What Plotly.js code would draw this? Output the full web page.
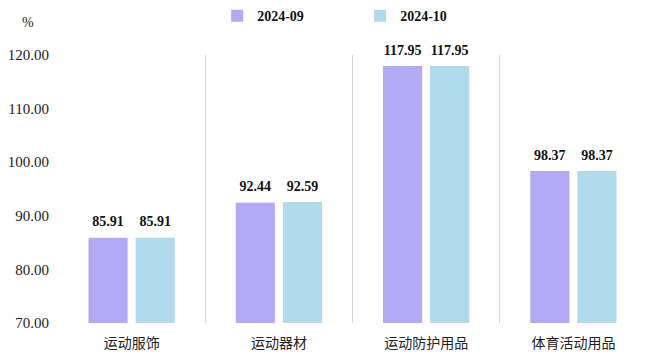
<!DOCTYPE html>
<html>
<head>
<meta charset="utf-8">
<script src="https://cdn.plot.ly/plotly-3.0.1.min.js"></script>
<style>html,body{margin:0;padding:0;background:#fff;}#chart{width:660px;height:357px;}</style>
</head>
<body>
<div id="chart"></div>
<script>
const categories = ["运动服饰", "运动器材", "运动防护用品", "体育活动用品"];
const seriesNames = ["2024-09", "2024-10"];
const values0909 = [85.91, 92.44, 117.95, 98.37];
const values2410 = [85.91, 92.59, 117.95, 98.37];
const yTicks = [70, 80, 90, 100, 110, 120];
const yTickText = ["70.00", "80.00", "90.00", "100.00", "110.00", "120.00"];

const colors = ["#b4a9f5", "#b1daed"];
const serif = "'Liberation Serif', 'Times New Roman', serif";

function barTrace(name, vals, color) {
  return {
    type: "bar",
    name: name,
    x: categories,
    y: vals,
    marker: {color: color},
    hoverinfo: "skip"
  };
}

function labelTrace(name, vals) {
  return {
    type: "scatter",
    mode: "markers+text",
    name: name + " labels",
    showlegend: false,
    x: categories,
    y: vals,
    text: vals.map(v => v.toFixed(2)),
    textposition: "top center",
    marker: {size: 11, opacity: 0},
    cliponaxis: false,
    textfont: {family: serif, size: 14, color: "#111", weight: "bold"},
    hoverinfo: "skip"
  };
}

const data = [
  barTrace(seriesNames[0], values0909, colors[0]),
  barTrace(seriesNames[1], values2410, colors[1]),
  labelTrace(seriesNames[0], values0909),
  labelTrace(seriesNames[1], values2410)
];

const layout = {
  width: 660, height: 357,
  margin: {l: 58, r: 13, t: 55, b: 34, autoexpand: false},
  paper_bgcolor: "#fff", plot_bgcolor: "#fff",
  barmode: "group",
  bargap: 0.36,
  bargroupgap: 0.17,
  scattermode: "group",
  scattergap: 0.36,
  showlegend: true,
  legend: {
    orientation: "h",
    xref: "container", yref: "container",
    x: 0.329, xanchor: "left",
    y: 0.955, yanchor: "middle",
    entrywidth: 98,
    font: {family: serif, size: 14, color: "#111", weight: "bold"}
  },
  xaxis: {
    type: "category",
    tickson: "boundaries",
    showgrid: true,
    gridcolor: "#d9d9d9",
    gridwidth: 1,
    ticks: "",
    showline: false,
    zeroline: false,
    ticklabelstandoff: 10,
    automargin: false,
    tickfont: {family: "'Noto Sans CJK SC', sans-serif", size: 14, color: "#222"}
  },
  yaxis: {
    range: [70, 120],
    tickvals: yTicks,
    ticktext: yTickText,
    showgrid: false,
    zeroline: false,
    showline: false,
    ticks: "",
    ticklabelstandoff: 8,
    automargin: false,
    tickfont: {family: serif, size: 15, color: "#222"}
  },
  annotations: [{
    text: "%", xref: "paper", yref: "paper", x: -0.051, y: 1.123,
    xanchor: "center", yanchor: "middle", showarrow: false,
    font: {family: serif, size: 14, color: "#222"}
  }]
};

Plotly.newPlot("chart", data, layout, {displayModeBar: false, staticPlot: true});
</script>
</body>
</html>
